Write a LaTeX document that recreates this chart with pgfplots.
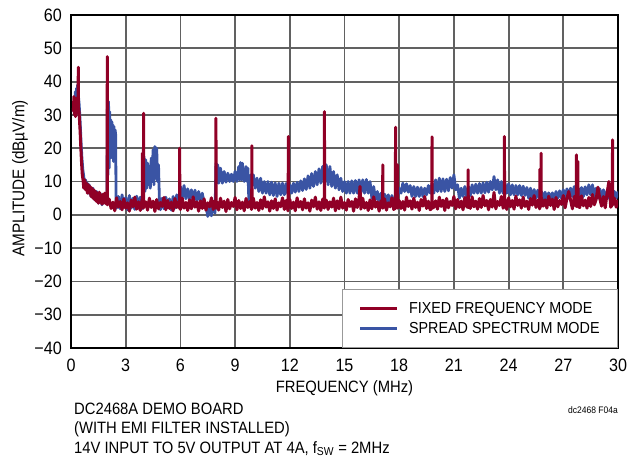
\documentclass[border=0pt]{standalone}
\usepackage{pgfplots}
\pgfplotsset{compat=1.18}
\usepackage{fontspec}
\setmainfont{Liberation Sans}[FakeStretch=0.9]
\definecolor{fixedred}{HTML}{900026}
\definecolor{spreadblue}{HTML}{3A54A4}
\newcommand\chartfont{\fontsize{16.5}{19.5}\selectfont}
\newcommand\tickfont{\fontsize{18}{20}\selectfont}

\begin{document}
\begin{tikzpicture}
\path[use as bounding box] (-71bp,-113bp) rectangle (558bp,348bp);
\begin{axis}[
  scale only axis, width=547bp, height=333bp,
  xmin=0, xmax=30, ymin=-40, ymax=60,
  xtick={0,3,...,30}, ytick={-40,-30,...,60},
  xticklabels={0,3,6,9,12,15,18,21,24,27,30},
  yticklabels={−40,−30,−20,−10,0,10,20,30,40,50,60},
  grid=major, grid style={black!62, line width=1.8bp},
  axis line style={black, line width=1.4bp},
  major tick length=0pt,
  tick label style={font=\tickfont},
  xticklabel style={inner sep=0pt, anchor=north, yshift=-11bp},
  yticklabel style={inner sep=0pt, anchor=east, xshift=-9bp},
  xlabel={FREQUENCY (MHz)},
  xlabel style={at={(axis description cs:0.5,0)}, anchor=base, yshift=-44bp, inner sep=0pt, font=\chartfont},
  ylabel={AMPLITUDE (dBµV/m)},
  ylabel style={at={(axis description cs:-0.0932,0.51)}, anchor=center, inner sep=0pt, font=\fontsize{17}{19}\selectfont},
  legend cell align=left,
  legend image code/.code={\draw[#1] (0bp,0bp) -- (37bp,0bp);},
  legend style={at={(1,0)}, anchor=south east, draw=black!40, line width=0.8bp,
    fill=white, inner xsep=16bp, inner ysep=11bp, row sep=3bp, column sep=8bp,
    nodes={inner sep=2bp, text depth=0.15em}, font=\fontsize{16}{19}\selectfont},
]
\addlegendimage{fixedred, line width=3.2bp}
\addlegendentry{FIXED FREQUENCY MODE}
\addlegendimage{spreadblue, line width=3.2bp}
\addlegendentry{SPREAD SPECTRUM MODE}

% spread spectrum mode
\addplot[spreadblue, line width=2.8bp, line join=round, forget plot] coordinates {
(0.15,31)(0.18,35)(0.21,32)(0.24,37)(0.27,33)(0.3,38)(0.33,34)(0.36,39)(0.4,36)(0.45,33)
(0.5,28)(0.55,22)(0.6,17)(0.65,13.5)(0.7,11.5)(0.75,8.5)(0.8,10.5)(0.85,7.5)(0.9,9.5)(0.95,6.5)
(1.0,9)(1.1,5.5)(1.2,8)(1.3,4.5)(1.4,7)(1.5,3.5)(1.6,6.5)(1.7,3)(1.8,6)(1.9,3.5)(1.97,5)
(2.0,35.5)(2.03,12)(2.06,34)(2.09,14)(2.12,31)(2.15,17)(2.18,28.5)(2.21,18)(2.24,28)(2.27,17)
(2.3,27)(2.33,16)(2.36,26.5)(2.39,17)(2.42,25.5)(2.45,24)(2.47,5)
(2.5,2.0)(2.6,5.5)(2.7,1.8)(2.8,6.0)(2.9,2.2)(3.0,5.2)(3.1,1.5)(3.2,5.8)(3.3,2.0)(3.4,5.0)
(3.5,1.6)(3.6,5.6)(3.7,2.3)(3.8,5.3)(3.9,1.8)(3.97,4.0)
(4.0,17.5)(4.05,7)(4.1,16.5)(4.15,8)(4.2,15.5)(4.25,9)(4.3,14.5)(4.35,8)(4.4,17)(4.45,10)
(4.5,19.5)(4.55,9)(4.6,20.5)(4.65,11)(4.7,20)(4.75,10)(4.8,15)(4.85,4)
(4.9,1.5)(5.0,5.0)(5.1,1.8)(5.2,5.3)(5.3,2.1)(5.4,4.8)(5.5,1.4)(5.6,5.5)(5.7,2.0)(5.8,6.0)(5.9,4.0)
(6.0,8.5)(6.1,5.0)(6.2,8.8)(6.3,4.8)(6.4,7.8)(6.5,4.5)(6.6,7.5)(6.7,4.6)(6.8,7.4)(6.9,4.2)
(7.0,7.0)(7.1,4.0)(7.2,6.5)(7.3,3.5)(7.4,2.8)(7.5,-0.5)(7.6,2.5)(7.7,-0.3)(7.8,3.0)(7.9,0.5)
(7.95,15.5)(8.0,9.5)(8.05,15)(8.1,9.5)(8.2,14)(8.3,9.5)(8.4,13)(8.5,9.8)(8.6,12.5)(8.7,10)
(8.8,12.2)(8.9,10)(9.0,13)(9.1,10)(9.2,14.5)(9.25,10.5)(9.3,15.7)(9.35,10.5)(9.4,15.5)(9.5,10)
(9.6,14.5)(9.65,10)(9.7,14)(9.75,5)(9.8,3)
(9.85,12)(9.9,8.5)(10.0,12)(10.1,8)(10.2,11)(10.3,7)(10.4,11)(10.5,6.5)(10.6,10)(10.7,6.5)
(10.8,10)(10.9,6)(11.0,9.8)(11.1,5.8)(11.2,9.6)(11.3,5.5)(11.4,9.5)(11.5,6)(11.6,9.5)(11.7,6)
(11.8,9.4)(11.9,6.2)(12.0,9.0)(12.1,6.5)(12.2,9.5)(12.3,6.8)(12.4,9.8)(12.5,7)(12.6,10.2)(12.7,7.3)
(12.8,10.8)(12.9,7.6)(13.0,11.7)(13.1,8)(13.2,12.4)(13.3,8.5)(13.4,13)(13.5,9)(13.6,13.8)(13.7,9.5)
(13.8,14.5)(13.9,9.5)(14.0,15)(14.1,9)(14.2,14.5)(14.3,8.5)(14.4,13)(14.5,8)(14.6,12)(14.7,7.5)
(14.8,11)(14.9,7)(15.0,10)(15.1,6.5)(15.2,10)(15.3,6.5)(15.4,10.2)(15.5,6.5)(15.6,10.3)(15.7,6.5)
(15.8,10.5)(15.9,6.6)(16.0,10.5)(16.1,6.5)(16.2,10.6)(16.3,6.5)(16.4,10)(16.5,5)(16.6,8.5)(16.7,4.5)
(16.8,7)(16.9,3.5)(17.0,6.5)(17.1,3.5)(17.2,6.2)(17.3,3.5)(17.4,6)(17.5,3.2)(17.6,5.8)(17.7,3.5)
(17.8,5.5)(17.9,5)(18.0,8)(18.1,6.5)(18.2,9.5)(18.3,7)(18.4,9.3)(18.5,6.8)(18.6,8.8)(18.7,5.5)
(18.8,8.5)(18.9,5.5)(19.0,8.3)(19.1,5.5)(19.2,8.2)(19.3,5.5)(19.4,8)(19.5,6)(19.6,8.8)(19.7,6.5)
(19.8,9.5)(19.9,6.5)(20.0,10.5)(20.1,7)(20.2,11)(20.3,7)(20.4,10.8)(20.5,7)(20.6,10.7)(20.7,7.2)
(20.8,11.2)(20.9,8)(21.0,12)(21.1,7.5)(21.2,9)(21.3,5)(21.4,8)(21.5,5.5)(21.6,8.5)(21.7,5.5)
(21.8,8.5)(21.9,5.8)(22.0,9)(22.1,6.5)(22.2,9.2)(22.3,6.5)(22.4,9.4)(22.5,6.5)(22.6,9.6)(22.7,6.6)
(22.8,9.8)(22.9,6.8)(23.0,10)(23.1,7.5)(23.2,11.5)(23.3,7.5)(23.4,10.5)(23.5,6.5)(23.6,10)(23.7,6.5)
(23.8,9.6)(23.9,6.5)(24.0,9.3)(24.1,6)(24.2,9)(24.3,6)(24.4,8.8)(24.5,6)(24.6,8.8)(24.7,5.8)
(24.8,8.6)(24.9,5.8)(25.0,8.2)(25.1,5)(25.2,8)(25.3,5)(25.4,7.6)(25.5,5)(25.6,7.4)(25.7,4.8)
(25.8,7.0)(25.9,4.5)(26.0,6.8)(26.1,4.5)(26.2,6.6)(26.3,4.5)(26.4,6.6)(26.5,4.5)(26.6,7)(26.7,5)
(26.8,7.2)(26.9,5)(27.0,7.5)(27.1,5)(27.2,7.8)(27.3,5)(27.4,8)(27.5,5.5)(27.6,8.5)(27.7,5.5)
(27.8,8.3)(27.9,5.5)(28.0,8.2)(28.1,5.5)(28.2,8.4)(28.3,6)(28.4,9)(28.5,6)(28.6,9)(28.7,5.5)
(28.8,8)(28.9,5)(29.0,7.8)(29.1,5)(29.2,7.5)(29.3,5)(29.4,7.2)(29.5,5)(29.6,7)(29.7,5)
(29.8,7)(29.9,5)(30.0,7)
};

% fixed frequency mode
\addplot[fixedred, line width=3bp, line join=round, forget plot] coordinates {
(0.13,31)(0.16,35.5)(0.19,30)(0.22,34.5)(0.25,29.5)(0.28,35)(0.31,30.5)(0.34,34)(0.37,31)(0.39,33)
(0.4,44.3)(0.41,32)(0.44,31)(0.47,28)(0.5,25)(0.54,20)(0.58,15.5)(0.62,12)(0.66,10.5)(0.7,8)
(0.75,10.5)(0.8,7.5)(0.85,9.5)(0.9,6.5)(0.95,9)(1.0,6.5)(1.05,8.5)(1.1,5.5)(1.15,8)(1.2,5)
(1.25,7.5)(1.3,4.5)(1.35,7)(1.4,4)(1.45,6.5)(1.5,3.5)(1.55,6.8)(1.6,3.8)(1.65,6)(1.7,3.2)
(1.75,6.2)(1.8,3.5)(1.85,6.5)(1.9,3.4)(1.95,6)(1.98,3)(1.99,47.5)(2.0,3)(2.05,4.8)
(2.1,4.6)(2.2,1.9)(2.3,3.8)(2.4,1.2)(2.5,5.1)(2.6,2.3)(2.7,4.0)(2.8,1.5)(2.9,4.8)(3.0,2.0)
(3.1,3.6)(3.2,1.1)(3.3,4.4)(3.4,2.4)(3.5,5.3)(3.6,1.7)(3.7,3.9)(3.8,1.3)(3.9,4.7)
(3.91,2.5)(3.92,18.5)(3.93,2.5)(3.97,2.0)(3.98,30.5)(3.99,2.2)
(4.1,3.9)(4.2,1.4)(4.3,5.0)(4.4,2.2)(4.5,4.1)(4.6,1.0)(4.7,4.6)(4.8,1.8)(4.9,3.7)(5.0,2.5)
(5.1,5.2)(5.2,1.5)(5.3,4.3)(5.4,1.9)(5.5,3.8)(5.6,1.2)(5.7,4.9)(5.8,2.2)(5.9,4.0)
(5.95,2.0)(5.96,20.0)(5.97,2.0)
(6.0,1.6)(6.1,5.0)(6.2,2.0)(6.3,3.7)(6.4,1.3)(6.5,4.5)(6.6,1.8)(6.7,5.4)(6.8,2.3)(6.9,3.9)
(7.0,1.1)(7.1,4.2)(7.2,1.9)(7.3,4.8)(7.4,1.4)(7.5,3.6)(7.6,2.4)(7.7,5.1)(7.8,1.6)(7.9,4.3)
(7.94,2.0)(7.95,29.0)(7.96,2.0)
(8.0,3.9)(8.1,1.4)(8.2,5.0)(8.3,2.2)(8.4,4.1)(8.5,1.0)(8.6,4.6)(8.7,1.8)(8.8,3.7)(8.9,2.5)
(9.0,5.2)(9.1,1.5)(9.2,4.3)(9.3,1.9)(9.4,3.8)(9.5,1.2)(9.6,4.9)(9.7,2.2)(9.8,4.0)(9.9,1.6)
(9.91,2.0)(9.92,20.7)(9.93,2.0)
(10.0,5.0)(10.1,2.0)(10.2,3.7)(10.3,1.3)(10.4,4.5)(10.5,1.8)(10.6,5.4)(10.7,2.3)(10.8,3.9)(10.9,1.1)
(11.0,4.2)(11.1,1.9)(11.2,4.8)(11.3,1.4)(11.4,3.6)(11.5,2.4)(11.6,5.1)(11.7,1.6)(11.8,4.3)(11.9,1.2)
(11.91,2.0)(11.92,23.5)(11.93,2.0)
(12.0,4.6)(12.1,1.9)(12.2,3.8)(12.3,1.2)(12.4,5.1)(12.5,2.3)(12.6,4.0)(12.7,1.5)(12.8,4.8)(12.9,2.0)
(13.0,3.6)(13.1,1.1)(13.2,4.4)(13.3,2.4)(13.4,5.3)(13.5,1.7)(13.6,3.9)(13.7,1.3)(13.8,4.7)
(13.89,2.0)(13.9,31.0)(13.91,2.1)
(14.0,4.4)(14.1,1.6)(14.2,3.9)(14.3,2.3)(14.4,5.0)(14.5,1.2)(14.6,4.2)(14.7,1.8)(14.8,5.3)(14.9,2.0)
(15.0,3.7)(15.1,1.4)(15.2,4.6)(15.3,2.5)(15.4,4.0)(15.5,1.1)(15.6,4.8)(15.7,2.2)(15.8,5.0)(15.85,8.5)(15.9,1.7)
(16.0,5.0)(16.1,2.0)(16.2,3.7)(16.3,1.3)(16.4,4.5)(16.5,1.8)(16.6,5.4)(16.7,2.3)(16.8,3.9)(16.9,1.1)
(17.0,4.2)(17.09,2.0)(17.1,15.0)(17.11,2.0)(17.2,4.8)(17.3,1.4)(17.4,3.6)(17.5,2.4)(17.6,5.1)(17.7,1.6)
(17.79,2.0)(17.8,26.3)(17.81,2.5)(17.89,3.0)(17.9,15.0)(17.91,2.0)
(18.0,4.3)(18.1,1.9)(18.2,4.0)(18.3,1.4)(18.4,5.3)(18.5,2.5)(18.6,4.2)(18.7,1.7)(18.8,5.0)(18.9,2.2)
(19.0,3.8)(19.1,1.3)(19.2,4.6)(19.3,2.6)(19.4,5.5)(19.5,1.9)(19.6,4.1)(19.7,1.5)
(19.79,2.0)(19.8,23.4)(19.81,2.0)(19.9,2.3)
(20.0,4.2)(20.1,1.7)(20.2,5.3)(20.3,2.5)(20.4,4.4)(20.5,1.3)(20.6,4.9)(20.7,2.1)(20.8,4.0)(20.9,2.8)
(21.0,5.5)(21.1,1.8)(21.2,4.6)(21.3,2.2)(21.4,4.1)(21.5,1.5)(21.6,5.2)(21.7,2.5)
(21.77,2.2)(21.78,13.5)(21.79,2.2)(21.8,4.3)(21.9,1.9)
(22.0,5.4)(22.1,2.4)(22.2,4.1)(22.3,1.7)(22.4,4.9)(22.5,2.2)(22.6,5.8)(22.7,2.7)(22.8,4.3)(22.9,1.5)
(23.0,4.6)(23.1,2.3)(23.2,6.7)(23.3,1.8)(23.4,4.0)(23.5,2.8)(23.6,5.5)(23.7,2.0)
(23.76,2.5)(23.77,23.5)(23.78,2.5)(23.8,4.7)(23.9,1.6)
(24.0,5.1)(24.1,2.4)(24.2,4.3)(24.3,1.7)(24.4,5.6)(24.5,2.8)(24.6,4.5)(24.7,2.0)(24.8,5.3)(24.9,2.5)
(25.0,4.1)(25.1,1.6)(25.2,4.9)(25.3,2.9)(25.4,5.8)(25.5,2.2)(25.6,4.4)(25.7,1.8)
(25.71,2.0)(25.72,13.7)(25.73,3.0)(25.77,2.5)(25.78,18.5)(25.79,2.5)(25.8,5.2)(25.9,2.6)
(26.0,4.5)(26.1,2.0)(26.2,5.6)(26.3,2.8)(26.4,4.7)(26.5,1.6)(26.6,5.2)(26.7,2.4)(26.8,4.3)(26.9,3.1)
(27.0,5.8)(27.1,2.1)(27.2,4.9)(27.3,7.0)(27.4,4.4)(27.5,1.8)(27.6,5.5)
(27.71,2.5)(27.72,18.0)(27.73,3.0)(27.79,3.0)(27.8,16.0)(27.81,2.5)(27.9,2.2)
(28.0,5.7)(28.1,2.7)(28.2,4.4)(28.3,2.0)(28.4,5.2)(28.5,2.5)(28.6,6.1)(28.7,3.0)(28.8,4.6)(28.9,8.3)
(29.0,4.9)(29.1,2.6)(29.2,5.5)(29.3,2.1)(29.4,6.5)(29.5,10.0)(29.6,2.3)
(29.69,3.0)(29.7,22.5)(29.71,3.0)(29.8,5.0)(29.9,2.3)(30.0,4.5)
};
\end{axis}
\node[anchor=base west, inner sep=0pt, font=\chartfont] at (3bp,-66bp) {DC2468A DEMO BOARD};
\node[anchor=base west, inner sep=0pt, font=\chartfont] at (3bp,-85bp) {(WITH EMI FILTER INSTALLED)};
\node[anchor=base west, inner sep=0pt, font=\chartfont] at (3bp,-105bp) {14V INPUT TO 5V OUTPUT AT 4A, f\textsubscript{SW} = 2MHz};
\node[anchor=base east, inner sep=0pt, font=\fontsize{9.5}{10}\selectfont] at (547bp,-65bp) {dc2468 F04a};
\end{tikzpicture}
\end{document}
